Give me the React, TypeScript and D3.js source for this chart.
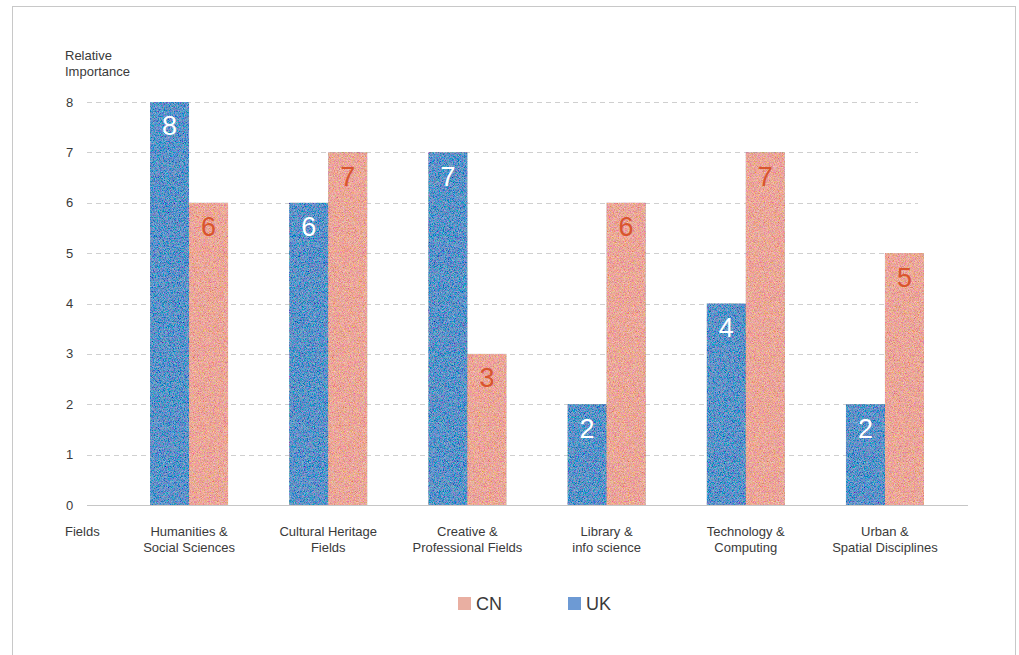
import React, { useEffect, useRef } from 'react'
import * as d3 from 'd3'

// data
const fields = [
  'Humanities &\nSocial Sciences',
  'Cultural Heritage\nFields',
  'Creative &\nProfessional Fields',
  'Library &\ninfo science',
  'Technology &\nComputing',
  'Urban &\nSpatial Disciplines',
]
const ukValues = [8, 6, 7, 2, 4, 2]
const cnValues = [6, 7, 3, 6, 7, 5]
const yTicks = [0, 1, 2, 3, 4, 5, 6, 7, 8]
const seriesNames = ['UK', 'CN']
const legendOrder = ['CN', 'UK']

const W = 1019
const H = 655
const FONT = '"Liberation Sans", Arial, sans-serif'

export default function App() {
  const ref = useRef<SVGSVGElement | null>(null)

  useEffect(() => {
    const svg = d3.select(ref.current)
    svg.selectAll('*').remove()

    const color = d3.scaleOrdinal<string, string>()
      .domain(seriesNames)
      .range(['#6093c8', '#eba79a'])
    const swatch = d3.scaleOrdinal<string, string>()
      .domain(seriesNames)
      .range(['#6d9ad4', '#e9afa2'])
    const labelColor = d3.scaleOrdinal<string, string>()
      .domain(seriesNames)
      .range(['#ffffff', '#d9552e'])

    // grain texture like the printed original
    const defs = svg.append('defs')
    const f = defs.append('filter').attr('id', 'grain')
      .attr('x', 0).attr('y', 0).attr('width', 1).attr('height', 1)
    f.append('feTurbulence').attr('type', 'fractalNoise')
      .attr('baseFrequency', 1.2).attr('numOctaves', 2).attr('seed', 4).attr('result', 'noise')
    f.append('feColorMatrix').attr('in', 'noise').attr('type', 'matrix')
      .attr('values', '1 0 0 0 0  0 1 0 0 0  0 0 1 0 0  0 0 0 0 1').attr('result', 'n2')
    f.append('feComposite').attr('in', 'SourceGraphic').attr('in2', 'n2')
      .attr('operator', 'arithmetic').attr('k1', 0).attr('k2', 1).attr('k3', 0.8).attr('k4', -0.4)
      .attr('result', 'mix')
    f.append('feComposite').attr('in', 'mix').attr('in2', 'SourceGraphic').attr('operator', 'in')

    // frame
    svg.append('rect')
      .attr('x', 12.5).attr('y', 6.5).attr('width', 1003).attr('height', 660)
      .attr('fill', 'none').attr('stroke', '#c8c8c8').attr('stroke-width', 1)

    const x = d3.scaleBand().domain(fields).range([119.5, 954.5])
    const xSub = d3.scaleBand().domain(seriesNames)
      .range([x.bandwidth() / 2 - 39, x.bandwidth() / 2 + 39])
    const y = d3.scaleLinear().domain([0, 8]).range([505, 102])

    // gridlines
    svg.append('g').selectAll('line')
      .data(yTicks.filter(d => d > 0))
      .enter().append('line')
      .attr('x1', 87).attr('x2', 918)
      .attr('y1', d => Math.round(y(d)) + 0.5).attr('y2', d => Math.round(y(d)) + 0.5)
      .attr('stroke', '#cfcfcf').attr('stroke-dasharray', '5,4')

    // y labels
    svg.append('g').selectAll('text')
      .data(yTicks)
      .enter().append('text')
      .attr('x', 66).attr('y', d => y(d))
      .attr('dy', '0.35em')
      .attr('font-family', FONT).attr('font-size', 13).attr('fill', '#3a3a3a')
      .text(d => d)

    svg.append('text')
      .attr('x', 65).attr('y', 60)
      .attr('font-family', FONT).attr('font-size', 13).attr('fill', '#3a3a3a')
      .selectAll('tspan').data(['Relative', 'Importance']).enter().append('tspan')
      .attr('x', 65).attr('dy', (d, i) => i === 0 ? 0 : 16).text(d => d)

    // bars
    const groups = svg.append('g').selectAll('g')
      .data(fields)
      .enter().append('g')
      .attr('transform', d => 'translate(' + x(d) + ',0)')

    const cells = groups.selectAll('g')
      .data((d, i) => seriesNames.map(k => ({ key: k, value: k === 'UK' ? ukValues[i] : cnValues[i] })))
      .enter().append('g')

    cells.append('rect')
      .attr('x', d => xSub(d.key)!)
      .attr('y', d => y(d.value))
      .attr('width', xSub.bandwidth())
      .attr('height', d => y(0) - y(d.value))
      .attr('fill', d => color(d.key))
      .attr('filter', 'url(#grain)')

    cells.append('text')
      .attr('x', d => xSub(d.key)! + xSub.bandwidth() / 2)
      .attr('y', d => y(d.value) + 24)
      .attr('dy', '0.35em')
      .attr('text-anchor', 'middle')
      .attr('font-family', FONT).attr('font-size', 27)
      .attr('fill', d => labelColor(d.key))
      .text(d => d.value)

    // baseline
    svg.append('line')
      .attr('x1', 87).attr('x2', 968).attr('y1', 505.5).attr('y2', 505.5)
      .attr('stroke', '#c6c6c6').attr('stroke-width', 1)

    // category labels
    svg.append('text').attr('x', 65).attr('y', 536)
      .attr('font-family', FONT).attr('font-size', 13).attr('fill', '#3a3a3a')
      .text('Fields')

    const xl = svg.append('g').selectAll('text')
      .data(fields)
      .enter().append('text')
      .attr('x', d => x(d)! + x.bandwidth() / 2)
      .attr('y', 536)
      .attr('text-anchor', 'middle')
      .attr('font-family', FONT).attr('font-size', 13).attr('fill', '#3a3a3a')
    xl.selectAll('tspan')
      .data(d => d.split('\n'))
      .enter().append('tspan')
      .attr('x', function () { return (this.parentNode as SVGTextElement).getAttribute('x') })
      .attr('dy', (d, i) => i === 0 ? 0 : 16)
      .text(d => d)

    // legend
    const legX = d3.scaleOrdinal<string, number>().domain(legendOrder).range([458, 568])
    const leg = svg.append('g').selectAll('g')
      .data(legendOrder)
      .enter().append('g')
      .attr('transform', d => 'translate(' + legX(d) + ',597)')
    leg.append('rect').attr('width', 13).attr('height', 13).attr('fill', d => swatch(d))
    leg.append('text').attr('x', 18).attr('y', 6.5).attr('dy', '0.36em')
      .attr('font-family', FONT).attr('font-size', 18).attr('fill', '#3a3a3a')
      .text(d => d)
  }, [])

  return (
    <div style={{ position: 'absolute', left: 0, top: 0, width: W, height: H, background: '#fff' }}>
      <svg ref={ref} width={W} height={H} />
    </div>
  )
}
